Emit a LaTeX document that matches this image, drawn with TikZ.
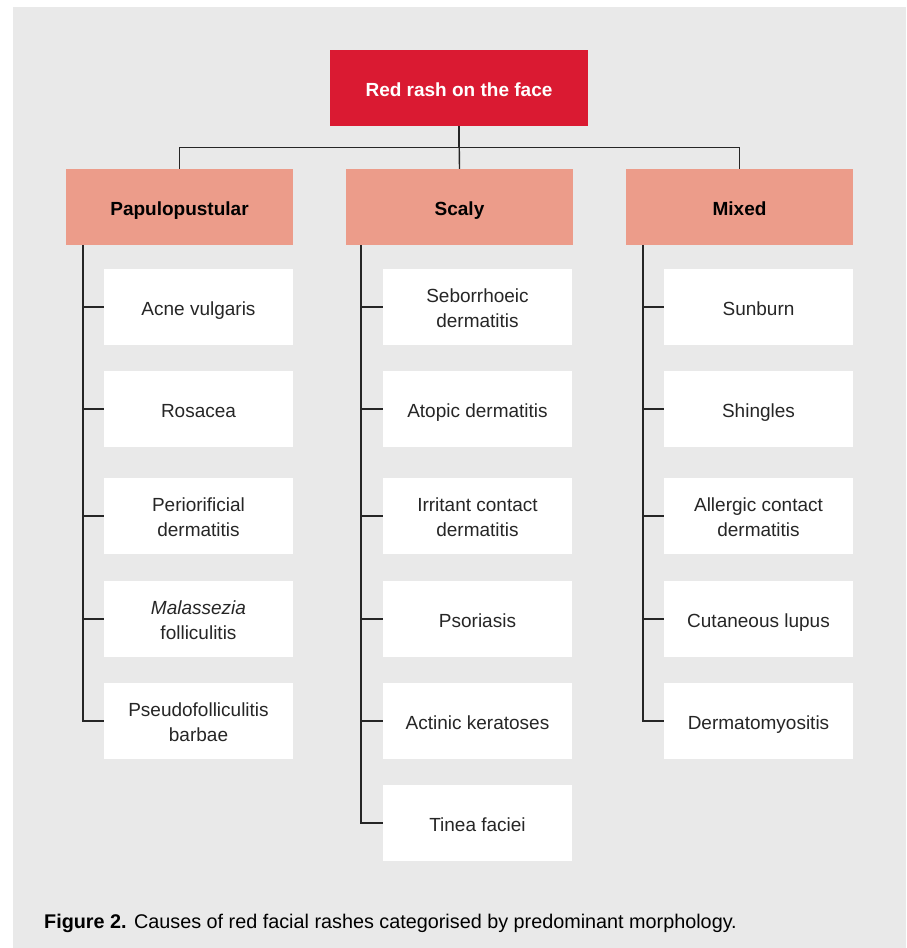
\documentclass[tikz,border=0pt]{standalone}
\usepackage{fontspec}
\setmainfont{Liberation Sans}
\usetikzlibrary{positioning}
\definecolor{bgGray}{HTML}{E9E9E9}
\definecolor{rootRed}{HTML}{DA1A32}
\definecolor{headSalmon}{HTML}{EC9C8A}
\definecolor{textGray}{HTML}{262626}
\newcommand{\boxTop}{\rule{0pt}{21pt}}
\newcommand{\boxBot}{\rule[-5pt]{0pt}{5pt}}

\begin{document}
\begin{tikzpicture}[x=1pt,y=-1pt,
  root/.style={rectangle,fill=rootRed,text=white,font=\fontsize{19}{25}\selectfont\bfseries,minimum width=258pt,minimum height=76pt,inner sep=0pt,execute at begin node=\boxTop,execute at end node=\boxBot},
  head/.style={rectangle,fill=headSalmon,text=black,font=\fontsize{19}{25}\selectfont\bfseries,minimum width=227pt,minimum height=76pt,inner sep=0pt,execute at begin node=\boxTop,execute at end node=\boxBot},
  leaf/.style={rectangle,fill=white,text=textGray,font=\fontsize{19}{25}\selectfont,align=center,minimum width=189pt,minimum height=76pt,inner sep=0pt,execute at begin node=\boxTop,execute at end node=\boxBot},
  link/.style={draw=black!85,line width=1.4pt}]
\useasboundingbox (0,0) rectangle (906,948);
\fill[white] (0,0) rectangle (906,948);
\fill[bgGray] (13,7) rectangle (906,948);

% top and the three groups
\path
(459,88) node [root] (root) {Red rash on the face}
(179.5,207) node [head] (pap) {Papulopustular}
(459.5,207) node [head] (sca) {Scaly}
(739.5,207) node [head] (mix) {Mixed}
;

% papulopustular
\path
(198.5,307) node [leaf] (pap1) {Acne vulgaris}
(198.5,409) node [leaf] (pap2) {Rosacea}
(198.5,516) node [leaf] (pap3) {\boxTop Periorificial\\dermatitis}
(198.5,619) node [leaf] (pap4) {\boxTop\textit{Malassezia}\\folliculitis}
(198.5,721) node [leaf] (pap5) {\boxTop Pseudofolliculitis\\barbae}
;

% scaly
\path
(477.5,307) node [leaf] (sca1) {\boxTop Seborrhoeic\\dermatitis}
(477.5,409) node [leaf] (sca2) {Atopic dermatitis}
(477.5,516) node [leaf] (sca3) {\boxTop Irritant contact\\dermatitis}
(477.5,619) node [leaf] (sca4) {Psoriasis}
(477.5,721) node [leaf] (sca5) {Actinic keratoses}
(477.5,823) node [leaf] (sca6) {Tinea faciei}
;

% mixed
\path
(758.5,307) node [leaf] (mix1) {Sunburn}
(758.5,409) node [leaf] (mix2) {Shingles}
(758.5,516) node [leaf] (mix3) {\boxTop Allergic contact\\dermatitis}
(758.5,619) node [leaf] (mix4) {Cutaneous lupus}
(758.5,721) node [leaf] (mix5) {Dermatomyositis}
;

\coordinate (papt) at ([xshift=17pt]pap.south west);
\coordinate (scat) at ([xshift=15pt]sca.south west);
\coordinate (mixt) at ([xshift=17pt]mix.south west);

\begin{scope}[every path/.style=link]
\path (root.south) -- ++(0,21) -| (pap.north);
\path (root.south) -- ++(0,21) -| (mix.north);
\path (root.south) -- (sca.north);

\path (papt) |- (pap5.west);
\path (pap1.west) -- (pap1.west -| papt);
\path (pap2.west) -- (pap2.west -| papt);
\path (pap3.west) -- (pap3.west -| papt);
\path (pap4.west) -- (pap4.west -| papt);

\path (scat) |- (sca6.west);
\path (sca1.west) -- (sca1.west -| scat);
\path (sca2.west) -- (sca2.west -| scat);
\path (sca3.west) -- (sca3.west -| scat);
\path (sca4.west) -- (sca4.west -| scat);
\path (sca5.west) -- (sca5.west -| scat);

\path (mixt) |- (mix5.west);
\path (mix1.west) -- (mix1.west -| mixt);
\path (mix2.west) -- (mix2.west -| mixt);
\path (mix3.west) -- (mix3.west -| mixt);
\path (mix4.west) -- (mix4.west -| mixt);
\end{scope}

% caption
\node [anchor=base west,text=black,font=\fontsize{19.8}{24}\selectfont,inner sep=0pt] (caption) at (44,928) {\textbf{Figure 2.} Causes of red facial rashes categorised by predominant morphology.};
\end{tikzpicture}
\end{document}
